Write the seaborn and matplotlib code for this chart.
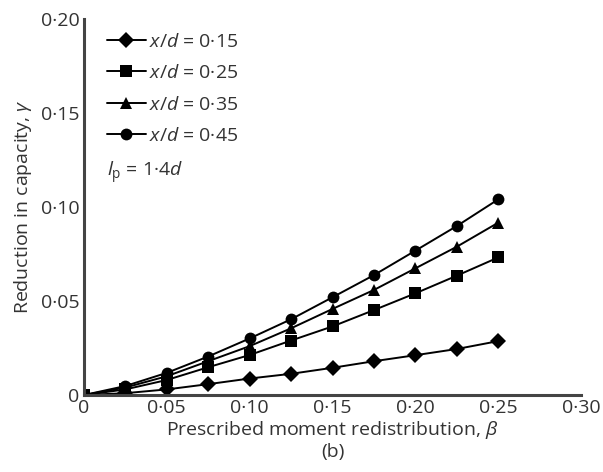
import numpy as np
import pandas as pd
import seaborn as sns
import matplotlib.pyplot as plt

# Values
beta = [0, 0.025, 0.05, 0.075, 0.10, 0.125, 0.15, 0.175, 0.20, 0.225, 0.25]
gamma_015 = [0, 0.001, 0.003, 0.0058, 0.0088, 0.0113, 0.0145, 0.018, 0.0212, 0.0245, 0.0287]
gamma_025 = [0, 0.003, 0.008, 0.0148, 0.0213, 0.029, 0.0365, 0.0452, 0.0541, 0.0635, 0.0732]
gamma_035 = [0, 0.004, 0.010, 0.018, 0.026, 0.0355, 0.0458, 0.0559, 0.0674, 0.0789, 0.0917]
gamma_045 = [0, 0.0048, 0.0118, 0.0205, 0.0301, 0.0403, 0.052, 0.0638, 0.0768, 0.0899, 0.1041]
series_labels = [r'$x/d$ = 0·15', r'$x/d$ = 0·25', r'$x/d$ = 0·35', r'$x/d$ = 0·45']
x_ticks = [0, 0.05, 0.10, 0.15, 0.20, 0.25, 0.30]
x_tick_labels = ['0', '0·05', '0·10', '0·15', '0·20', '0·25', '0·30']
y_ticks = [0, 0.05, 0.10, 0.15, 0.20]
y_tick_labels = ['0', '0·05', '0·10', '0·15', '0·20']

frames = []
for lab, g in zip(series_labels, [gamma_015, gamma_025, gamma_035, gamma_045]):
    frames.append(pd.DataFrame({'beta': beta, 'gamma': g, 'series': lab}))
df = pd.concat(frames, ignore_index=True)

sns.set_style('white')
plt.rcParams['font.family'] = ['Open Sans', 'DejaVu Sans']
plt.rcParams['mathtext.fontset'] = 'custom'
plt.rcParams['mathtext.rm'] = 'Open Sans'
plt.rcParams['mathtext.it'] = 'Open Sans:italic'
plt.rcParams['mathtext.bf'] = 'Open Sans:bold'

fs = 14
txt_col = '#333333'

fig = plt.figure(figsize=(6.03, 4.72), dpi=100)
ax = fig.add_axes([0.139, 0.163, 0.825, 0.797])

markers = dict(zip(series_labels, ['D', 's', '^', 'o']))
palette = dict(zip(series_labels, ['black'] * 4))
sns.lineplot(data=df, x='beta', y='gamma', hue='series', style='series',
             markers=markers, dashes=False, palette=palette, ax=ax,
             linewidth=1.4, markersize=8.5, markeredgewidth=0)

ax.set_xlim(0, 0.30)
ax.set_ylim(0, 0.20)
ax.set_xticks(x_ticks)
ax.set_xticklabels(x_tick_labels)
ax.set_yticks(y_ticks)
ax.set_yticklabels(y_tick_labels)
ax.tick_params(direction='in', length=7, width=1.8, labelsize=fs, colors=txt_col,
               pad=3)
for s in ['top', 'right']:
    ax.spines[s].set_visible(False)
for s in ['left', 'bottom']:
    ax.spines[s].set_linewidth(2.2)
    ax.spines[s].set_color('#444444')

ax.set_xlabel('Prescribed moment redistribution, $\\beta$\n(b)', fontsize=fs,
              color=txt_col, labelpad=1, linespacing=1.15)
ax.set_ylabel('Reduction in capacity, $\\gamma$', fontsize=fs, color=txt_col,
              labelpad=5)

leg = ax.legend(loc='upper left', bbox_to_anchor=(0.031, 0.984), frameon=False,
                fontsize=fs, handlelength=2.0, handletextpad=0.15, labelspacing=0.69,
                borderaxespad=0)
for t in leg.get_texts():
    t.set_color(txt_col)
ax.text(0.046, 0.59, r'$l_{\rm p}$ = 1·4$d$', transform=ax.transAxes, fontsize=fs,
        color=txt_col, va='center')

fig.savefig('out.png', dpi=100)
